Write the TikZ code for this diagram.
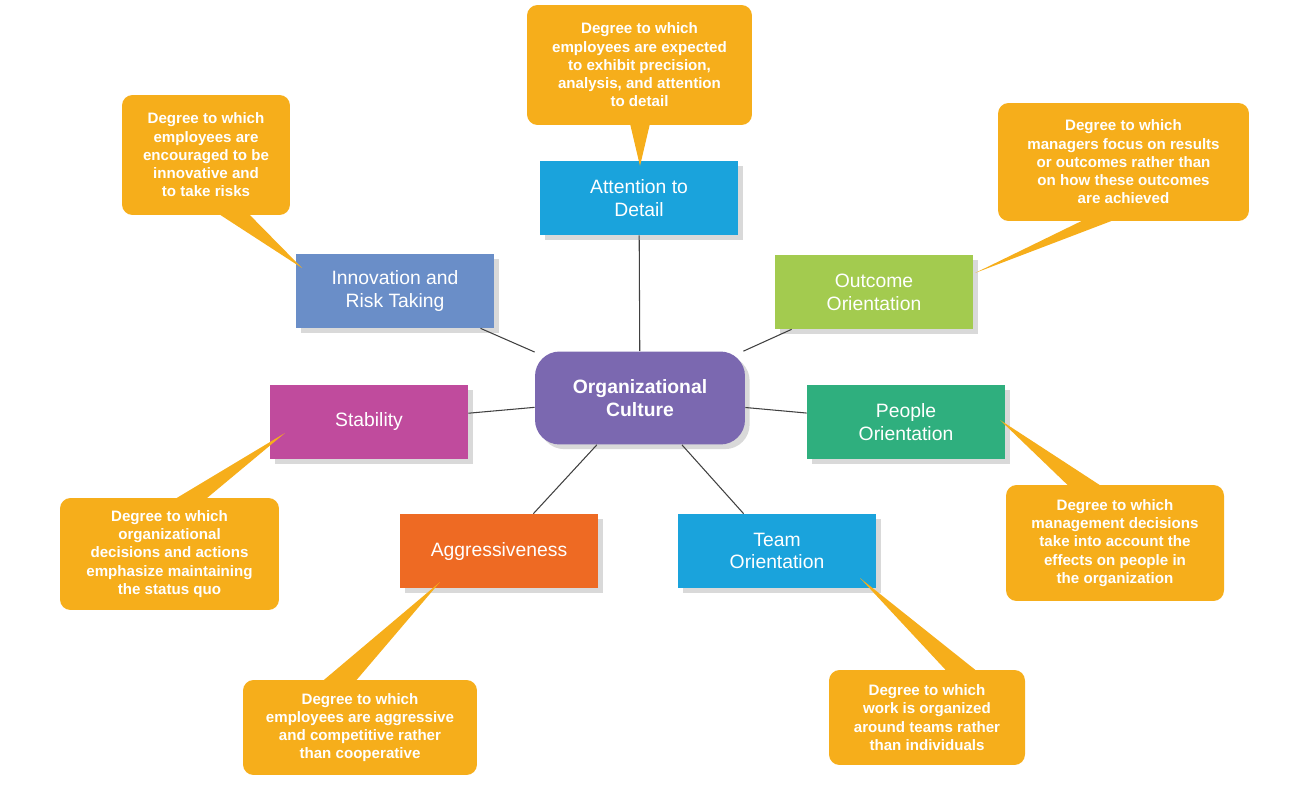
\documentclass[tikz,border=0pt]{standalone}
\usepackage{fontspec}
\setmainfont{Liberation Sans}
\usetikzlibrary{positioning,shadows,calc}
\definecolor{callcol}{HTML}{F6AE1B}
\definecolor{cultcol}{HTML}{7B68B0}
\definecolor{cyancol}{HTML}{1AA3DC}
\definecolor{innocol}{HTML}{6A8EC8}
\definecolor{outcol}{HTML}{A3CB4F}
\definecolor{stabcol}{HTML}{C04B9D}
\definecolor{peopcol}{HTML}{2FAF7E}
\definecolor{aggcol}{HTML}{EE6A23}
\tikzset{
  dim/.style={rectangle, minimum width=3.96cm, minimum height=1.48cm, text=white,
              font=\fontsize{11}{13}\selectfont, align=center, drop shadow={opacity=0.3}},
  note/.style={rectangle, rounded corners=6pt, fill=callcol, text=white,
               font=\fontsize{8.6}{10.4}\selectfont\bfseries, align=center, inner sep=0pt},
  link/.style={draw=black!75, line width=0.6pt}
}
\begin{document}
\begin{tikzpicture}[x=0.02cm,y=-0.02cm]
  \useasboundingbox (0,0) rectangle (1310,790);
  % centre and dimensions
  \node[dim, fill=cultcol, rounded corners=14pt, minimum width=4.2cm, minimum height=1.86cm,
        font=\fontsize{11}{13}\selectfont\bfseries] (cult) at (640,398) {Organizational\\Culture};
  \node[dim, fill=cyancol] (att) at (639,198) {Attention to\\Detail};
  \node[dim, fill=innocol] (inno) at (395,291) {Innovation and\\Risk Taking};
  \node[dim, fill=outcol] (outc) at (874,292) {Outcome\\Orientation};
  \node[dim, fill=stabcol] (stab) at (369,422) {Stability};
  \node[dim, fill=peopcol] (peop) at (906,422) {People\\Orientation};
  \node[dim, fill=aggcol] (aggr) at (499,551) {Aggressiveness};
  \node[dim, fill=cyancol] (team) at (777,551) {Team\\Orientation};
  \begin{scope}[on background layer/.try]
  \end{scope}
  \draw[link] (cult) -- (att);
  \draw[link] (cult) -- (inno);
  \draw[link] (cult) -- (outc);
  \draw[link] (cult) -- (stab);
  \draw[link] (cult) -- (peop);
  \draw[link] (cult) -- (aggr);
  \draw[link] (cult) -- (team);
  % pointers
  \coordinate (tAtt) at (640,166);
  \coordinate (tInno) at (302,268);
  \coordinate (tOutc) at (975,273);
  \coordinate (tStab) at (285,433);
  \coordinate (tPeop) at (1000,420);
  \coordinate (tAggr) at (440,582);
  \coordinate (tTeam) at (860,578);
  \fill[callcol] (628,115) -- (tAtt) -- (652,115) -- cycle;
  \fill[callcol] (205,205) -- (tInno) -- (240,205) -- cycle;
  \fill[callcol] (1100,212) -- (tOutc) -- (1135,212) -- cycle;
  \fill[callcol] (160,508) -- (tStab) -- (195,508) -- cycle;
  \fill[callcol] (1078,495) -- (tPeop) -- (1115,495) -- cycle;
  \fill[callcol] (312,690) -- (tAggr) -- (348,690) -- cycle;
  \fill[callcol] (955,680) -- (tTeam) -- (988,680) -- cycle;
  % callouts
  \node[note, minimum width=4.5cm, minimum height=2.4cm] (nAtt) at (639.5,65)
    {Degree to which\\employees are expected\\to exhibit precision,\\analysis, and attention\\to detail};
  \node[note, minimum width=3.36cm, minimum height=2.4cm] (nInno) at (206,155)
    {Degree to which\\employees are\\encouraged to be\\innovative and\\to take risks};
  \node[note, minimum width=5.02cm, minimum height=2.36cm] (nOutc) at (1123.5,162)
    {Degree to which\\managers focus on results\\or outcomes rather than\\on how these outcomes\\are achieved};
  \node[note, minimum width=4.38cm, minimum height=2.24cm] (nStab) at (169.5,554)
    {Degree to which\\organizational\\decisions and actions\\emphasize maintaining\\the status quo};
  \node[note, minimum width=4.36cm, minimum height=2.32cm] (nPeop) at (1115,543)
    {Degree to which\\management decisions\\take into account the\\effects on people in\\the organization};
  \node[note, minimum width=4.68cm, minimum height=1.9cm] (nAggr) at (360,727.5)
    {Degree to which\\employees are aggressive\\and competitive rather\\than cooperative};
  \node[note, minimum width=3.92cm, minimum height=1.9cm] (nTeam) at (927,717.5)
    {Degree to which\\work is organized\\around teams rather\\than individuals};
\end{tikzpicture}
\end{document}
